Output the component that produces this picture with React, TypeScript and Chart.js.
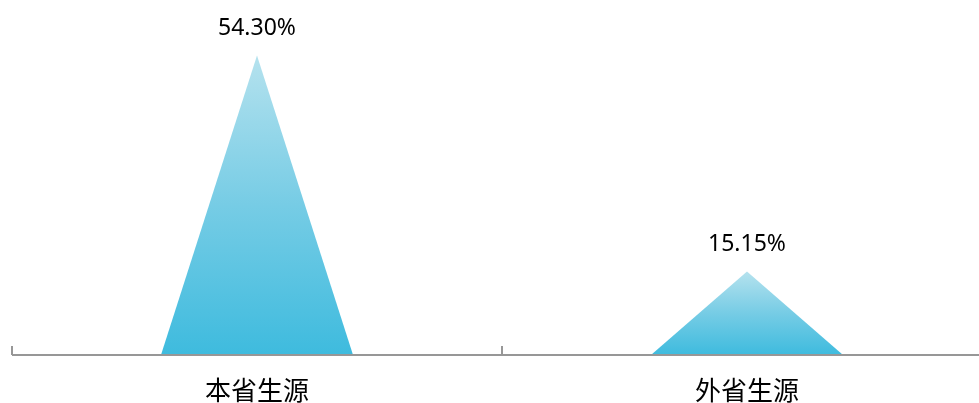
import React, { useEffect, useRef } from "react";
import { Chart, registerables } from "chart.js";

Chart.register(...registerables);

const categories: string[] = ["本省生源", "外省生源"];
const values: number[] = [54.3, 15.15];
const valueLabels: string[] = ["54.30%", "15.15%"];

const triPlugin = {
  id: "triPlugin",
  afterDatasetsDraw(chart: any) {
    const ctx = chart.ctx as CanvasRenderingContext2D;
    const meta = chart.getDatasetMeta(0);
    meta.data.forEach((bar: any, i: number) => {
      const { x, y, base, width } = bar.getProps(["x", "y", "base", "width"], true);
      const g = ctx.createLinearGradient(0, y, 0, base);
      g.addColorStop(0, "#b5e2ee");
      g.addColorStop(0.5, "#76cce5");
      g.addColorStop(1, "#3ebbde");
      ctx.save();
      ctx.beginPath();
      ctx.moveTo(x - width / 2, base);
      ctx.lineTo(x, y);
      ctx.lineTo(x + width / 2, base);
      ctx.closePath();
      ctx.fillStyle = g;
      ctx.fill();
      ctx.restore();

      ctx.save();
      ctx.fillStyle = "#000000";
      ctx.font = '23px "Noto Sans", "Open Sans", sans-serif';
      ctx.textAlign = "center";
      ctx.textBaseline = "alphabetic";
      ctx.fillText(valueLabels[i], x, y - 20);
      ctx.restore();
    });

    // axis line and upward tick marks
    const xs = chart.scales.x;
    const area = chart.chartArea;
    ctx.save();
    ctx.strokeStyle = "#979797";
    ctx.lineWidth = 2;
    ctx.beginPath();
    ctx.moveTo(area.left, area.bottom);
    ctx.lineTo(area.right, area.bottom);
    ctx.stroke();
    const step = (area.right - area.left) / categories.length;
    for (let i = 0; i <= categories.length; i++) {
      const px = xs.getPixelForValue(0) - step / 2 + i * step;
      ctx.beginPath();
      ctx.moveTo(px, area.bottom - 9);
      ctx.lineTo(px, area.bottom);
      ctx.stroke();
    }
    ctx.restore();
  },
};

export default function App() {
  const ref = useRef<HTMLCanvasElement | null>(null);
  useEffect(() => {
    if (!ref.current) return;
    const chart = new Chart(ref.current, {
      type: "bar",
      data: {
        labels: categories,
        datasets: [
          {
            data: values,
            backgroundColor: "rgba(0,0,0,0)",
            borderWidth: 0,
            categoryPercentage: 1,
            barPercentage: 0.392,
          },
        ],
      },
      options: {
        responsive: false,
        animation: false,
        devicePixelRatio: 1,
        layout: { padding: { left: 12, right: 8, top: 24, bottom: 0 } },
        plugins: { legend: { display: false }, tooltip: { enabled: false } },
        scales: {
          x: {
            offset: true,
            grid: { display: false, drawTicks: false },
            border: { display: false },
            ticks: {
              color: "#000000",
              padding: 20,
              font: { family: '"Noto Sans CJK SC", sans-serif', size: 26 },
            },
            afterFit: (s: any) => {
              s.height = 48;
            },
          },
          y: {
            display: false,
            min: 0,
            max: 60,
          },
        },
      },
      plugins: [triPlugin],
    });
    return () => chart.destroy();
  }, []);
  return (
    <div
      style={{
        position: "fixed",
        left: 0,
        top: 0,
        width: 979,
        height: 403,
        overflow: "hidden",
        background: "#ffffff",
      }}
    >
      <canvas ref={ref} width={1000} height={403} style={{ display: "block" }} />
    </div>
  );
}
